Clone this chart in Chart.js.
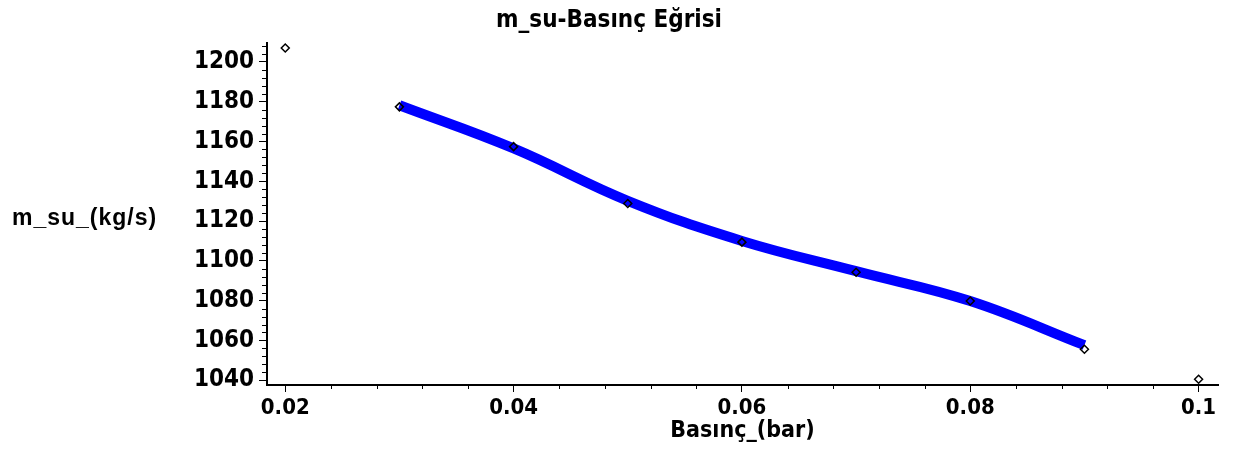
<!DOCTYPE html>
<html>
<head>
<meta charset="utf-8">
<script src="https://cdn.jsdelivr.net/npm/chart.js@4/dist/chart.umd.min.js"></script>
<style>
  html, body { margin: 0; padding: 0; background: #fff; }
  #wrap { width: 1234px; height: 451px; }
</style>
</head>
<body>
<div id="wrap"><canvas id="msuChart" width="1234" height="451"></canvas></div>
<script>
// ------
// data
// ------
const pressure = [0.02, 0.03, 0.04, 0.05, 0.06, 0.07, 0.08, 0.09, 0.1];
const flowMeasured = [1207, 1177.4, 1157.4, 1128.8, 1109.4, 1094.3, 1079.8, 1055.6, 1040.5];
const fitPressure = [0.03, 0.04, 0.05, 0.06, 0.07, 0.08, 0.09];
const fitFlow = [1178.2, 1156.5, 1130.2, 1110, 1094.8, 1079.8, 1057.6];
const xTickValues = [0.02, 0.04, 0.06, 0.08, 0.1];
const xTickLabels = ['0.02', '0.04', '0.06', '0.08', '0.1'];
const yTickValues = [1040, 1060, 1080, 1100, 1120, 1140, 1160, 1180, 1200];

const narrow = "'Liberation Sans Narrow', 'DejaVu Sans Condensed', sans-serif";

// minor ticks + horizontal y title
const extras = {
  id: 'extras',
  afterDraw(chart) {
    const ctx = chart.ctx;
    const x = chart.scales.x, y = chart.scales.y;
    ctx.save();
    ctx.strokeStyle = '#000';
    ctx.lineWidth = 1;
    ctx.beginPath();
    for (let i = 0; i <= 20; i++) {
      if (i % 5 === 0) continue;
      const px = Math.round(x.getPixelForValue(0.02 + i * 0.004)) + 0.5;
      ctx.moveTo(px, y.bottom);
      ctx.lineTo(px, y.bottom + 4);
    }
    for (let i = 0; i <= 42; i++) {
      if (i % 5 === 0) continue;
      const py = Math.round(y.getPixelForValue(1040 + i * 4)) + 0.5;
      ctx.moveTo(x.left - 5, py);
      ctx.lineTo(x.left, py);
    }
    ctx.stroke();
    ctx.fillStyle = '#000';
    ctx.font = "bold 23px 'Liberation Sans', Arial, sans-serif";
    ctx.letterSpacing = '1px';
    ctx.textBaseline = 'middle';
    ctx.textAlign = 'left';
    ctx.fillText('m_su_(kg/s)', 12, 219);
    ctx.restore();
  }
};

const msu = document.getElementById('msuChart');
new Chart(msu, {
  type: 'line',
  data: {
    datasets: [
      {
        label: 'points',
        data: pressure.map((p, i) => ({ x: p, y: flowMeasured[i] })),
        showLine: false,
        pointStyle: 'rectRot',
        pointRadius: 4,
        pointBorderWidth: 1.5,
        pointBorderColor: '#000',
        pointBackgroundColor: 'rgba(255,255,255,0)',
      },
      {
        label: 'fit',
        data: fitPressure.map((p, i) => ({ x: p, y: fitFlow[i] })),
        borderColor: '#0000ff',
        borderWidth: 10,
        pointRadius: 0,
        tension: 0.4,
        borderCapStyle: 'butt',
      },
    ],
  },
  options: {
    responsive: false,
    animation: false,
    layout: {
      padding: { left: 0, right: 16, top: 0, bottom: 0 },
    },
    plugins: {
      legend: { display: false },
      tooltip: { enabled: false },
      title: {
        display: true,
        text: 'm_su-Basınç Eğrisi',
        color: '#000',
        font: { family: narrow, size: 24, weight: 'bold' },
        padding: { top: 6, bottom: 8 },
      },
    },
    scales: {
      x: {
        type: 'linear',
        min: 0.0184,
        max: 0.1017,
        afterFit: (s) => { s.height = 66; },
        afterBuildTicks: (s) => { s.ticks = xTickValues.map(v => ({ value: v })); },
        ticks: {
          color: '#000',
          padding: 3,
          maxRotation: 0,
          autoSkip: false,
          font: { family: narrow, size: 22, weight: 'bold' },
          callback: (v) => xTickLabels[xTickValues.indexOf(v)] ?? '',
        },
        grid: {
          drawOnChartArea: false,
          tickLength: 7,
          tickColor: '#000',
          tickWidth: 1,
        },
        border: { display: true, color: '#000', width: 2 },
        title: {
          display: true,
          text: 'Basınç_(bar)',
          color: '#000',
          font: { family: narrow, size: 23, weight: 'bold' },
          padding: { top: 0, bottom: 6 },
        },
      },
      y: {
        type: 'linear',
        min: 1037.6,
        max: 1209.6,
        afterFit: (s) => { s.width = 267; },
        afterBuildTicks: (s) => { s.ticks = yTickValues.map(v => ({ value: v })); },
        ticks: {
          color: '#000',
          padding: 5,
          autoSkip: false,
          font: { family: narrow, size: 24, weight: 'bold' },
          callback: (v) => String(v),
        },
        grid: {
          drawOnChartArea: false,
          tickLength: 8,
          tickColor: '#000',
          tickWidth: 1,
        },
        border: { display: true, color: '#000', width: 2 },
      },
    },
  },
  plugins: [extras],
});
</script>
</body>
</html>
